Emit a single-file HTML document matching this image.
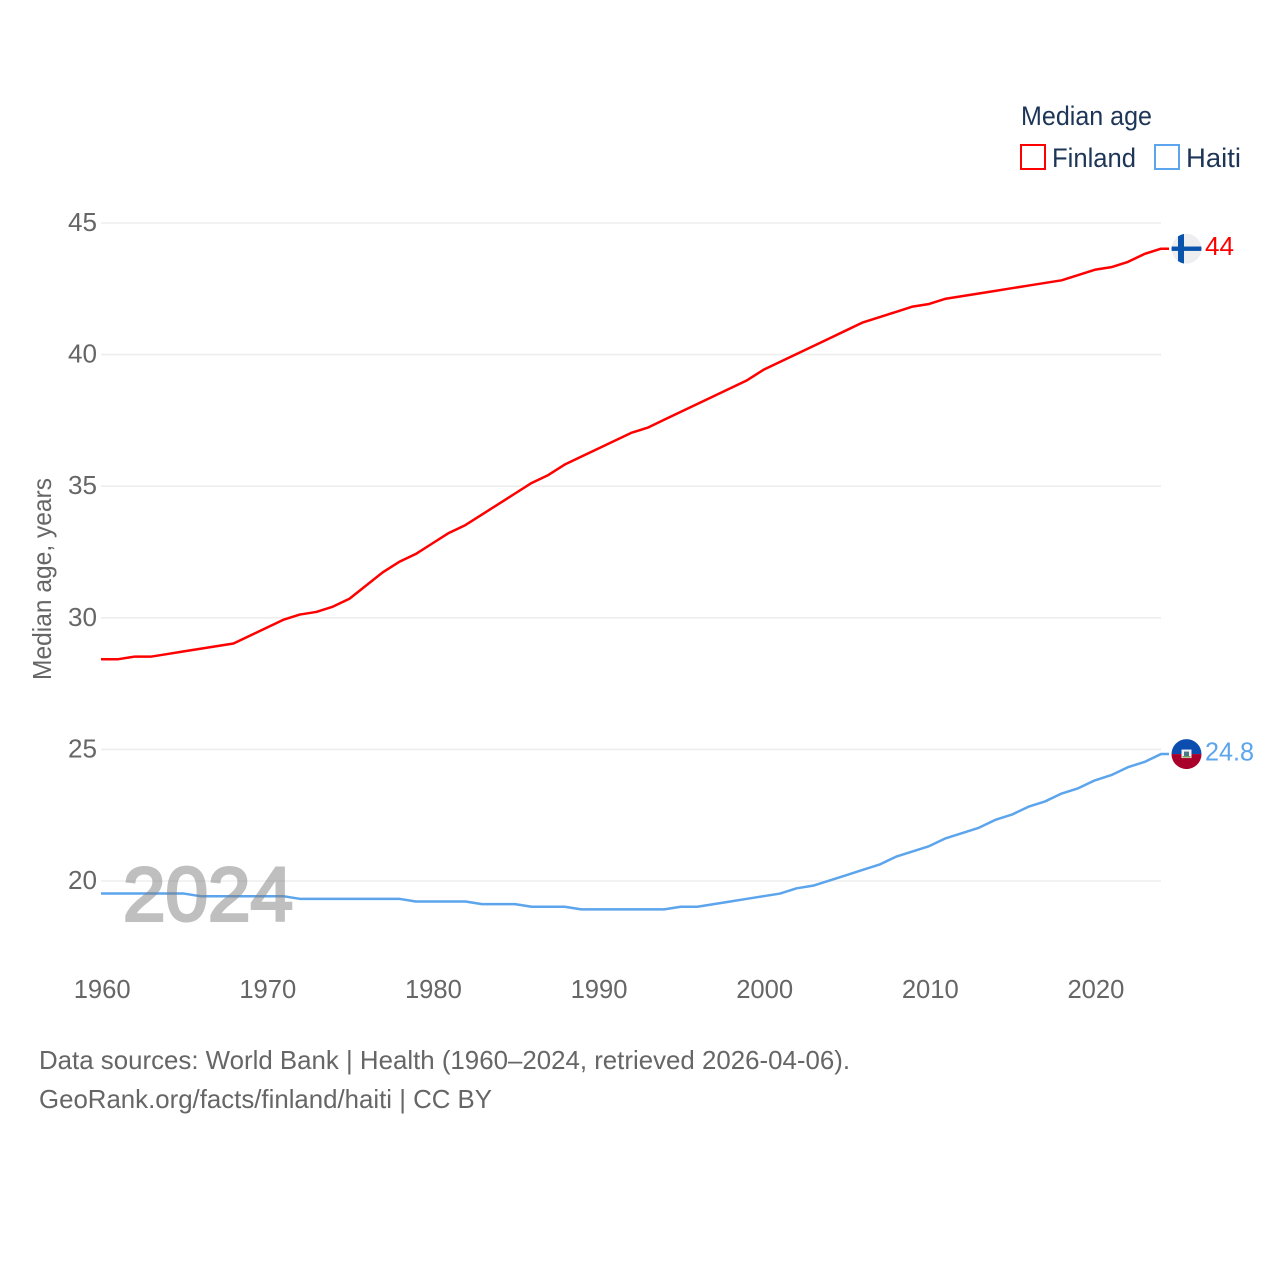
<!DOCTYPE html>
<html>
<head>
<meta charset="utf-8">
<title>Median age: Finland and Haiti</title>
<style>
html,body{margin:0;padding:0;background:#fff;width:1280px;height:1280px;overflow:hidden}
svg{display:block}
text{font-family:"Liberation Sans",sans-serif}
.tick{font-size:26px;fill:#666}
.foot{font-size:26px;fill:#666}
.leg{font-size:27px;fill:#1d3557}
</style>
</head>
<body>
<svg id="chart" width="1280" height="1280" viewBox="0 0 1280 1280" xmlns="http://www.w3.org/2000/svg">
  <g id="grid"></g>
  <g id="yticks"></g>
  <g id="xticks"></g>
  <text transform="translate(51,680) rotate(-90)" font-size="26" fill="#666" textLength="202" lengthAdjust="spacingAndGlyphs">Median age, years</text>
  <g id="series"></g>
  <text x="123" y="920.5" font-size="76" fill="#808080" stroke="#808080" stroke-width="3" opacity="0.5" textLength="170" lengthAdjust="spacingAndGlyphs">2024</text>

  <text class="leg" x="1021" y="125" textLength="131" lengthAdjust="spacingAndGlyphs">Median age</text>
  <g>
    <rect x="1021" y="145" width="24" height="24" fill="#fff" stroke="#ff0000" stroke-width="2"/>
    <text class="leg" x="1052" y="167" textLength="84" lengthAdjust="spacingAndGlyphs">Finland</text>
  </g>
  <g>
    <rect x="1155" y="145" width="24" height="24" fill="#fff" stroke="#5ca4ec" stroke-width="2"/>
    <text class="leg" x="1186" y="167" textLength="55" lengthAdjust="spacingAndGlyphs">Haiti</text>
  </g>

  <defs>
    <clipPath id="clip-fi"><circle id="clip-fi-c" r="15"/></clipPath>
    <clipPath id="clip-ht"><circle id="clip-ht-c" r="15"/></clipPath>
  </defs>
  <g id="flag-fi" clip-path="url(#clip-fi)">
    <circle r="15" fill="#eeeef0"/>
    <rect x="-15" y="-2.2" width="30" height="4.4" fill="#0a53ad"/>
    <rect x="-8.5" y="-15" width="6" height="30" fill="#0a53ad"/>
  </g>
  <g id="flag-ht" clip-path="url(#clip-ht)">
    <rect x="-15" y="-15" width="30" height="15" fill="#0c4db0"/>
    <rect x="-15" y="0" width="30" height="15" fill="#a8002a"/>
    <rect x="-5" y="-4.5" width="10" height="8.5" fill="#f4f4f4"/>
    <rect x="-2.5" y="-2.5" width="5" height="4.5" fill="#4a7a8a"/>
    <rect x="-4" y="2" width="8" height="1.4" fill="#6a9a4a"/>
  </g>
  <text id="label-fi" x="1205" font-size="26" fill="#ff0000" textLength="29" lengthAdjust="spacingAndGlyphs"></text>
  <text id="label-ht" x="1205" font-size="26" fill="#5ca4ec" textLength="49" lengthAdjust="spacingAndGlyphs"></text>

  <text class="foot" x="39" y="1069" textLength="811" lengthAdjust="spacingAndGlyphs">Data sources: World Bank | Health (1960–2024, retrieved 2026-04-06).</text>
  <text class="foot" x="39" y="1108" textLength="453" lengthAdjust="spacingAndGlyphs">GeoRank.org/facts/finland/haiti | CC BY</text>
</svg>
<script>
const years = [1960,1961,1962,1963,1964,1965,1966,1967,1968,1969,1970,1971,1972,1973,1974,1975,1976,1977,1978,1979,1980,1981,1982,1983,1984,1985,1986,1987,1988,1989,1990,1991,1992,1993,1994,1995,1996,1997,1998,1999,2000,2001,2002,2003,2004,2005,2006,2007,2008,2009,2010,2011,2012,2013,2014,2015,2016,2017,2018,2019,2020,2021,2022,2023,2024];
const finland = [28.4,28.4,28.5,28.5,28.6,28.7,28.8,28.9,29.0,29.3,29.6,29.9,30.1,30.2,30.4,30.7,31.2,31.7,32.1,32.4,32.8,33.2,33.5,33.9,34.3,34.7,35.1,35.4,35.8,36.1,36.4,36.7,37.0,37.2,37.5,37.8,38.1,38.4,38.7,39.0,39.4,39.7,40.0,40.3,40.6,40.9,41.2,41.4,41.6,41.8,41.9,42.1,42.2,42.3,42.4,42.5,42.6,42.7,42.8,43.0,43.2,43.3,43.5,43.8,44.0];
const haiti = [19.5,19.5,19.5,19.5,19.5,19.5,19.4,19.4,19.4,19.4,19.4,19.4,19.3,19.3,19.3,19.3,19.3,19.3,19.3,19.2,19.2,19.2,19.2,19.1,19.1,19.1,19.0,19.0,19.0,18.9,18.9,18.9,18.9,18.9,18.9,19.0,19.0,19.1,19.2,19.3,19.4,19.5,19.7,19.8,20.0,20.2,20.4,20.6,20.9,21.1,21.3,21.6,21.8,22.0,22.3,22.5,22.8,23.0,23.3,23.5,23.8,24.0,24.3,24.5,24.8];
const yTickValues = [20,25,30,35,40,45];
const xTickValues = [1960,1970,1980,1990,2000,2010,2020];

const NS = 'http://www.w3.org/2000/svg';
function xScale(year){ return 101 + (year - 1960) * (1161 - 101) / 64; }
function yScale(v){ return 881 - (v - 20) * (881 - 223) / 25; }
function yLine(v){ return yScale(v) - 0.6; }

const gridG = document.getElementById('grid');
const yG = document.getElementById('yticks');
const xG = document.getElementById('xticks');
const seriesG = document.getElementById('series');

yTickValues.forEach(function(v){
  const l = document.createElementNS(NS,'line');
  
  
  l.setAttribute('x1', 101);
  l.setAttribute('x2', 1161);
  l.setAttribute('y1', yScale(v));
  l.setAttribute('y2', yScale(v));
  l.setAttribute('stroke', '#eeeeee');
  l.setAttribute('stroke-width', 1.6);
  gridG.appendChild(l);
  const t = document.createElementNS(NS,'text');
  
  
  t.setAttribute('class', 'tick');
  t.setAttribute('x', 68);
  t.setAttribute('y', yScale(v) + 8);
  t.setAttribute('textLength', 29);
  t.setAttribute('lengthAdjust', 'spacingAndGlyphs');
  t.textContent = String(v);
  yG.appendChild(t);
});

xTickValues.forEach(function(v){
  const t = document.createElementNS(NS,'text');
  
  
  t.setAttribute('class', 'tick');
  t.setAttribute('x', xScale(v) - 27.3);
  t.setAttribute('y', 998);
  t.setAttribute('textLength', 57);
  t.setAttribute('lengthAdjust', 'spacingAndGlyphs');
  t.textContent = String(v);
  xG.appendChild(t);
});

function drawSeries(values, color, name){
  let d = '';
  values.forEach(function(v,i){
    d += (i ? 'L' : 'M') + xScale(years[i]).toFixed(2) + ' ' + yLine(v).toFixed(2);
  });
  const last = values[values.length - 1];
  d += 'L' + (xScale(years[years.length - 1]) + 8).toFixed(2) + ' ' + yLine(last).toFixed(2);
  const p = document.createElementNS(NS,'path');
  
  
  p.setAttribute('d', d);
  p.setAttribute('fill', 'none');
  p.setAttribute('stroke', color);
  p.setAttribute('stroke-width', 2.5);
  p.setAttribute('stroke-linejoin', 'round');
  seriesG.appendChild(p);
}
drawSeries(finland, '#ff0000', 'finland-line');
drawSeries(haiti, '#5ca4ec', 'haiti-line');

function placeEnd(values, flagId, clipId, labelId){
  const v = values[values.length - 1];
  const y = yLine(v);
  const fx = xScale(years[years.length - 1]) + 25.5;
  document.getElementById(flagId).setAttribute('transform', 'translate(' + fx + ',' + y + ')');
  document.getElementById(clipId).setAttribute('cx', 0);
  const lab = document.getElementById(labelId);
  lab.setAttribute('y', y + 6.5);
  lab.textContent = String(v);
}
placeEnd(finland, 'flag-fi', 'clip-fi-c', 'label-fi');
placeEnd(haiti, 'flag-ht', 'clip-ht-c', 'label-ht');
</script>
</body>
</html>
